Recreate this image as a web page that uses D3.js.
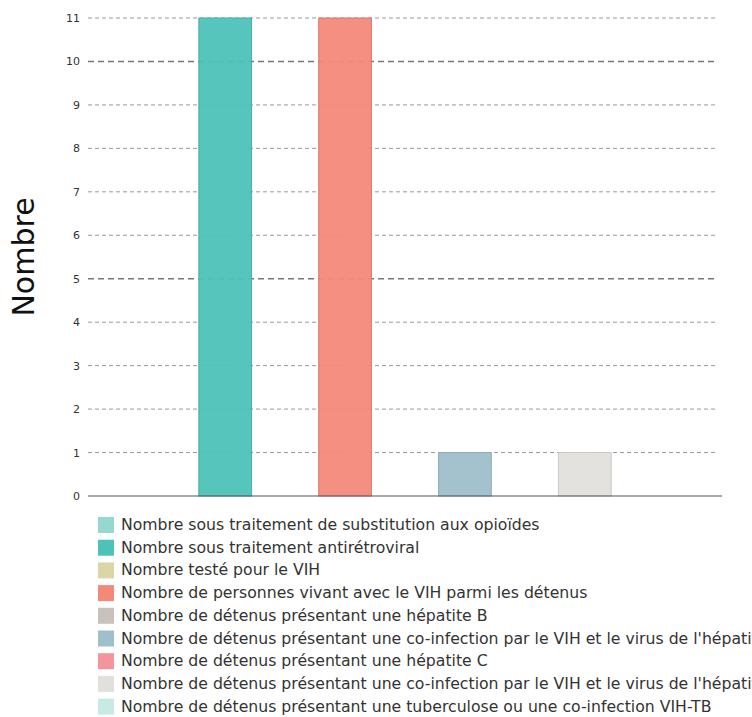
<!DOCTYPE html>
<html>
  <head>
    <meta charset="utf-8">
    <script src="https://d3js.org/d3.v7.min.js"></script>
    <style>
      body { margin: 0; background: #fff; overflow: hidden; }
      text { font-family: "DejaVu Sans", Verdana, sans-serif; }
    </style>
  </head>
  <body>
    <div id="wrapper"></div>
    <script>
      // series (legend order) and their values
      var series = [
        "Nombre sous traitement de substitution aux opioïdes",
        "Nombre sous traitement antirétroviral",
        "Nombre testé pour le VIH",
        "Nombre de personnes vivant avec le VIH parmi les détenus",
        "Nombre de détenus présentant une hépatite B",
        "Nombre de détenus présentant une co-infection par le VIH et le virus de l'hépatite B",
        "Nombre de détenus présentant une hépatite C",
        "Nombre de détenus présentant une co-infection par le VIH et le virus de l'hépatite C",
        "Nombre de détenus présentant une tuberculose ou une co-infection VIH-TB"
      ];
      var values = [0, 11, 0, 11, 0, 1, 0, 1, 0];
      var colors = ["#94d8cf", "#4dc3b8", "#dcd6a5", "#f4897a", "#c9c2bc",
                    "#9fbfcb", "#f4949c", "#e1e0dc", "#c8eae4"];
      var yTicks = [0, 1, 2, 3, 4, 5, 6, 7, 8, 9, 10, 11];
      var yLabel = "Nombre";

      var width = 752, height = 717;
      var plotLeft = 88, plotRight = 722, plotTop = 18, plotBottom = 496;

      var svg = d3.select("#wrapper").append("svg")
        .attr("width", width)
        .attr("height", height);

      var x0 = d3.scaleBand().domain(["g"]).range([plotLeft, plotRight]).paddingOuter(0.08);
      var x1 = d3.scaleBand().domain(d3.range(series.length))
        .range([0, x0.bandwidth()]).padding(0.12);
      var y = d3.scaleLinear().domain([0, 11]).range([plotBottom, plotTop]);

      // grid
      var grid = svg.append("g");
      grid.selectAll("line")
        .data(yTicks.filter(function(d) { return d > 0; }))
        .enter().append("line")
        .attr("x1", plotLeft)
        .attr("x2", plotRight - 4)
        .attr("y1", function(d) { return y(d); })
        .attr("y2", function(d) { return y(d); })
        .attr("stroke", function(d) { return d % 5 == 0 ? "#777" : "#999"; })
        .attr("stroke-width", function(d) { return d % 5 == 0 ? 1.6 : 1; })
        .attr("stroke-dasharray", function(d) { return d % 5 == 0 ? "6,4" : "4,3"; });

      // y axis labels
      var yAxis = d3.axisLeft(y).tickValues(yTicks).tickSize(0).tickPadding(8);
      var gy = svg.append("g")
        .attr("transform", "translate(" + plotLeft + ",0)")
        .call(yAxis);
      gy.select(".domain").remove();
      gy.selectAll("text")
        .attr("fill", "#333")
        .style("font-size", "11px");

      // bars
      var g = svg.append("g").attr("transform", "translate(" + x0("g") + ",0)");
      g.selectAll("rect")
        .data(values.map(function(v, i) { return { v: v, i: i }; })
              .filter(function(d) { return d.v > 0; }))
        .enter().append("rect")
        .attr("x", function(d) { return x1(d.i); })
        .attr("y", function(d) { return y(d.v); })
        .attr("width", x1.bandwidth())
        .attr("height", function(d) { return y(0) - y(d.v); })
        .attr("fill", function(d) { return colors[d.i]; })
        .attr("fill-opacity", 0.95)
        .attr("stroke", function(d) { return d3.color(colors[d.i]).darker(0.3); })
        .attr("stroke-width", 1);

      // baseline
      svg.append("line")
        .attr("x1", plotLeft).attr("x2", plotRight)
        .attr("y1", y(0)).attr("y2", y(0))
        .attr("stroke", "#555").attr("stroke-width", 1.2);

      // y title
      svg.append("text")
        .attr("transform", "translate(34," + ((plotTop + plotBottom) / 2) + ") rotate(-90)")
        .attr("text-anchor", "middle")
        .style("font-size", "30px")
        .attr("fill", "#111")
        .text(yLabel);

      // legend
      var legend = svg.append("g").attr("transform", "translate(98,517)");
      var item = legend.selectAll("g")
        .data(series)
        .enter().append("g")
        .attr("transform", function(d, i) { return "translate(0," + (i * 22.7) + ")"; });
      item.append("rect")
        .attr("width", 16).attr("height", 16)
        .attr("fill", function(d, i) { return colors[i]; });
      item.append("text")
        .attr("x", 23)
        .attr("y", 13)
        .attr("fill", "#333")
        .style("font-size", "15.7px")
        .text(function(d) { return d; });
    </script>
  </body>
</html>
